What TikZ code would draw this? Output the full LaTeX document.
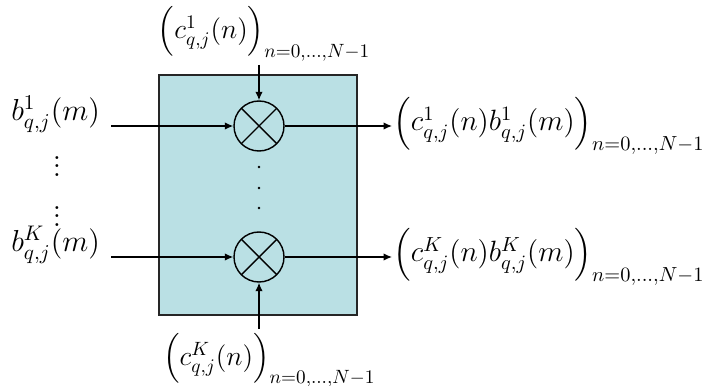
\documentclass[tikz,border=0pt]{standalone}
\usepackage{amsmath}
\usetikzlibrary{arrows.meta, positioning}

\definecolor{boxfill}{RGB}{186,224,228}

\begin{document}
\begin{tikzpicture}[
    block/.style={draw=black!85, thick, fill=boxfill},
    mult/.style={circle, draw=black, semithick, minimum size=0.75cm, inner sep=0pt,
        path picture={
            \draw[semithick] (path picture bounding box.north west) -- (path picture bounding box.south east);
            \draw[semithick] (path picture bounding box.south west) -- (path picture bounding box.north east);
        }},
    lbl/.style={font=\Large, scale=0.9, transform shape, inner sep=2pt},
    seq/.style={font=\Large, scale=0.82, transform shape, inner sep=2pt},
    outp/.style={font=\Large, scale=0.87, transform shape, inner sep=0.5pt},
    sig/.style={draw, semithick, -{Latex[length=3.6pt, width=3.2pt]}}
]
\useasboundingbox (0,0) rectangle (10.575,5.775);

% --- Bloc ---
\draw[block] (2.385,1.05) rectangle (5.355,4.65);

% --- Multiplieurs ---
\node[mult] (m1) at (3.885,3.885) {};
\node[mult] (mK) at (3.885,1.92) {};

\foreach \y in {3.27,2.955,2.655}
    \fill (3.885,\y) circle (0.55pt);

% --- Entrees ---
\coordinate (in1) at (1.665,3.885);
\coordinate (inK) at (1.665,1.92);
\node[lbl, anchor=base east] (b1) at (1.57,3.96) {$b^{1}_{q,j}(m)$};
\node[lbl, anchor=base east] (bK) at (1.57,1.995) {$b^{K}_{q,j}(m)$};
\node[lbl, anchor=base] (dots1) at (0.855,3.13) {$\vdots$};
\node[lbl, anchor=base] (dots2) at (0.855,2.38) {$\vdots$};

% --- Codes ---
\node[seq, anchor=south] (c1) at (3.96,4.8) {$\Big(c^{1}_{q,j}(n)\Big)_{n=0,\ldots,N-1}$};
\node[seq, anchor=north] (cK) at (4.04,0.84) {$\Big(c^{K}_{q,j}(n)\Big)_{n=0,\ldots,N-1}$};

% --- Sorties ---
\node[outp, anchor=west] (o1) at (5.88,3.885) {$\Big(c^{1}_{q,j}(n)b^{1}_{q,j}(m)\Big)_{n=0,\ldots,N-1}$};
\node[outp, anchor=west] (oK) at (5.88,1.92) {$\Big(c^{K}_{q,j}(n)b^{K}_{q,j}(m)\Big)_{n=0,\ldots,N-1}$};

% --- Connexions ---
\draw[sig] (in1) -- (m1);
\draw[sig] (inK) -- (mK);
\draw[sig] (c1.south -| m1.north) -- (m1);
\draw[sig] (cK.north -| mK.south) -- (mK);
\draw[sig] (m1) -- (o1.west);
\draw[sig] (mK) -- (oK.west);

\end{tikzpicture}
\end{document}
